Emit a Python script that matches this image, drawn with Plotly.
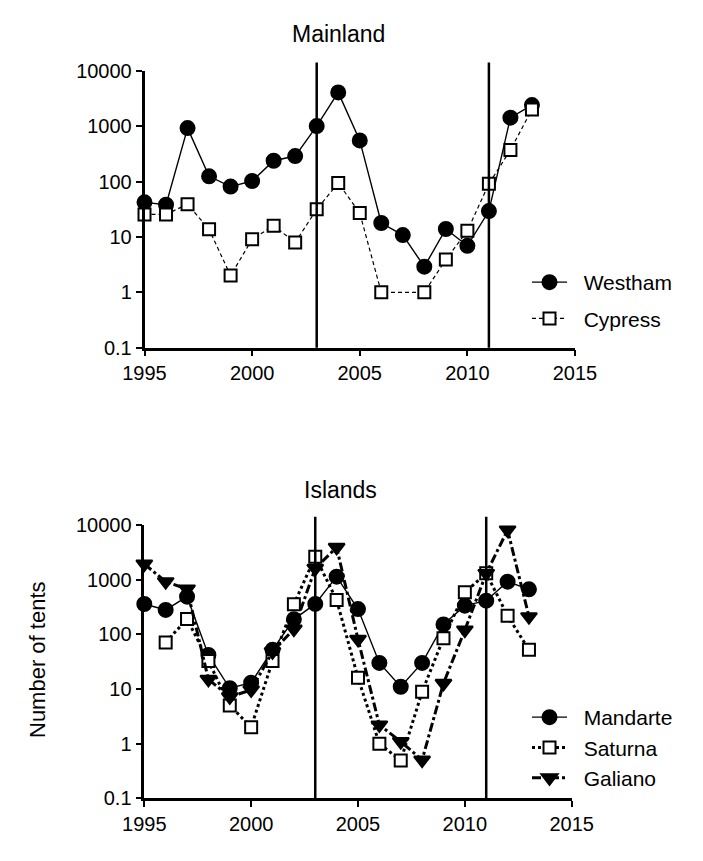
import plotly.graph_objects as go

years = list(range(1995, 2014))

westham = [42, 38, 920, 124, 81, 102, 237, 288, 1000, 4060, 552, 17.8, 10.8, 2.9, 13.9, 6.9, 29.3, 1420, 2400]
cypress = [25.5, 25.5, 39, 13.7, 2, 9.1, 15.9, 7.9, 31.4, 94, 27, 1.0, None, 1.0, 3.9, 12.9, 91, 370, 2000]

mandarte = [359, 279, 489, 42, 10.3, 13, 52, 188, 360, 1135, 290, 30, 11, 30, 152, 334, 413, 920, 666]
saturna = [None, 71, 191, 32.5, 5, 2, 32.5, 354, 2636, 425, 16, 1.0, 0.49, 8.9, 85, 587, 1306, 219, 52]
galiano = [1935, 920, 675, 15, 7.2, 9.6, 48, 125, 1611, 3900, 81, 2.2, 1.09, 0.5, 12.7, 120, 1300, 8100, 210]

x_ticks = [1995, 2000, 2005, 2010, 2015]
y_ticks = [0.1, 1, 10, 100, 1000, 10000]
y_ticktext = ["0.1", "1", "10", "100", "1000", "10000"]
event_years = [2003, 2011]

FONT = "Arial, Liberation Sans, sans-serif"
OFF = 8                 # page body margin
W, H = 703 - OFF, 861 - OFF
PAD = "\u00a0\u00a0"    # gap between legend symbol and label


def fx(px):             # page x pixel -> paper fraction
    return (px - OFF) / W


def fy(py):             # page y pixel -> paper fraction
    return 1 - (py - OFF) / H


fig = go.Figure()


def add(name, y, xa, ya, symbol, fill, dash, width, legend, group):
    fig.add_trace(go.Scatter(
        x=years, y=y, name=PAD + name, mode="lines+markers",
        xaxis=xa, yaxis=ya, connectgaps=True, cliponaxis=False,
        line=dict(color="black", width=width, dash=dash),
        marker=dict(symbol=symbol, size=14 if symbol != "square" else 12,
                    color="black" if fill else "white",
                    line=dict(color="black", width=2)),
        legend=legend, legendgroup=group,
    ))


add("Westham", westham, "x", "y", "circle", True, "solid", 1.4, "legend", "a")
add("Cypress", cypress, "x", "y", "square", False, "4px,3px", 1.2, "legend", "b")
add("Mandarte", mandarte, "x2", "y2", "circle", True, "solid", 1.4, "legend2", "c")
add("Saturna", saturna, "x2", "y2", "square", False, "dot", 3, "legend2", "d")
add("Galiano", galiano, "x2", "y2", "triangle-down", True, "dashdot", 3, "legend2", "e")

TICKFONT = dict(family=FONT, size=20, color="black")


def xaxis(domain, anchor):
    return dict(domain=domain, anchor=anchor, range=[1995, 2015], tickvals=x_ticks,
                showline=True, linecolor="black", linewidth=2.5, ticks="outside",
                ticklen=6, tickwidth=2, tickcolor="black", showgrid=False, zeroline=False,
                automargin=False, tickfont=TICKFONT)


def yaxis(domain, anchor):
    return dict(domain=domain, anchor=anchor, type="log", range=[-1, 4],
                tickvals=y_ticks, ticktext=y_ticktext,
                showline=True, linecolor="black", linewidth=2.5, ticks="outside",
                ticklen=6, tickwidth=2, tickcolor="black", showgrid=False, zeroline=False,
                automargin=False, tickfont=TICKFONT)


shapes = []
for xr, yr in [("x", "y domain"), ("x2", "y2 domain")]:
    for ev in event_years:
        shapes.append(dict(type="line", xref=xr, yref=yr, x0=ev, x1=ev, y0=0, y1=1.03,
                           line=dict(color="black", width=2.5)))

LEGFONT = dict(family=FONT, size=21, color="black")
TITLEFONT = dict(family=FONT, size=23, color="black")
YLABFONT = dict(family=FONT, size=22, color="black")

fig.update_layout(
    width=W, height=H, margin=dict(l=0, r=0, t=0, b=0, pad=0, autoexpand=False),
    paper_bgcolor="white", plot_bgcolor="white",
    font=dict(family=FONT, color="black"),
    xaxis=xaxis([fx(144.5), fx(575)], "y"),
    yaxis=yaxis([fy(347.7), fy(70.7)], "x"),
    xaxis2=xaxis([fx(144.3), fx(571.7)], "y2"),
    yaxis2=yaxis([fy(798.3), fy(525)], "x2"),
    shapes=shapes,
    legend=dict(x=fx(527), y=fy(262), xanchor="left", yanchor="top",
                font=LEGFONT, tracegroupgap=6, itemwidth=35,
                bgcolor="rgba(0,0,0,0)"),
    legend2=dict(x=fx(527), y=fy(697), xanchor="left", yanchor="top",
                 font=LEGFONT, tracegroupgap=0, itemwidth=35,
                 bgcolor="rgba(0,0,0,0)"),
    annotations=[
        dict(text="Mainland", x=fx(338), y=fy(34), xref="paper", yref="paper",
             xanchor="center", yanchor="middle", showarrow=False, font=TITLEFONT),
        dict(text="Islands", x=fx(340), y=fy(490), xref="paper", yref="paper",
             xanchor="center", yanchor="middle", showarrow=False, font=TITLEFONT),
        dict(text="Number of tents", x=fx(37), y=fy(660), xref="paper", yref="paper",
             xanchor="center", yanchor="middle", showarrow=False, textangle=-90,
             font=YLABFONT),
    ],
)

fig.write_html("out.html")
